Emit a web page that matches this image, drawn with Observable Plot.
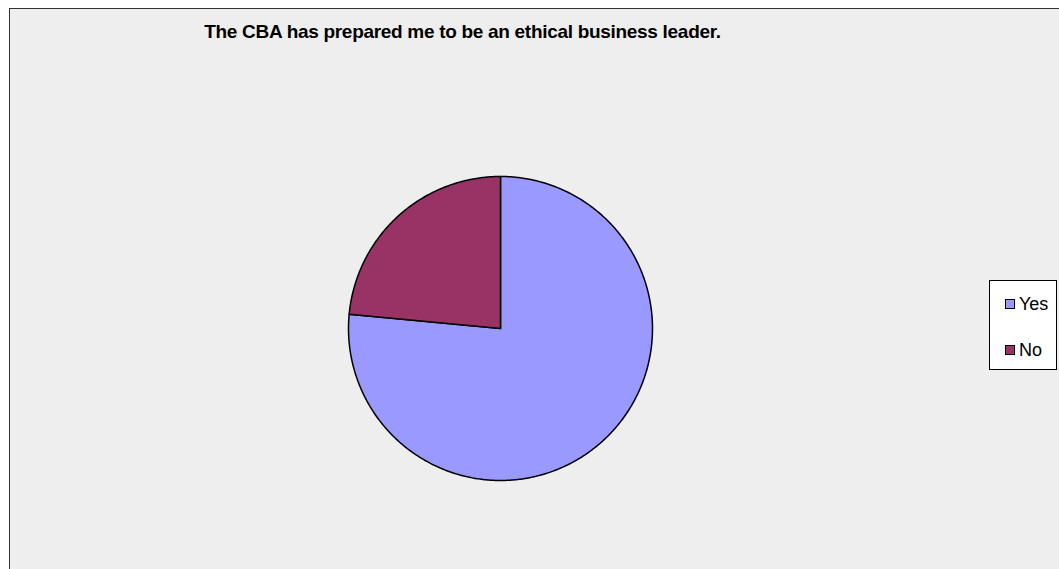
<!DOCTYPE html>
<html>
<head>
<meta charset="utf-8">
<script src="https://cdn.jsdelivr.net/npm/d3@7"></script>
<script src="https://cdn.jsdelivr.net/npm/@observablehq/plot@0.6"></script>
<style>
  html, body { margin: 0; padding: 0; background: #ffffff; }
  #wrap { position: relative; width: 1059px; height: 569px; overflow: hidden; }
  #bg { position: absolute; left: 9px; top: 8px; width: 1100px; height: 600px;
        background: #eeeeee; border-left: 1.5px solid #333; border-top: 1.5px solid #333; box-sizing: border-box; }
  #title { position: absolute; left: 0; width: 925px; top: 21px; text-align: center;
           font-family: "Liberation Sans", Arial, sans-serif; font-weight: bold; font-size: 19px;
           letter-spacing: -0.3px; color: #000; line-height: 22px; }
  #legend { position: absolute; left: 989px; top: 280px; width: 68px; height: 90px;
            background: #fff; border: 1px solid #000; box-sizing: border-box;
            font-family: "Liberation Sans", Arial, sans-serif; font-size: 18px; color: #000; }
  .item { position: absolute; left: 15px; height: 20px; line-height: 20px; }
  .sw { display: inline-block; width: 8px; height: 8px; border: 1px solid #000; margin-right: 4px; vertical-align: 1px; }
  #plot { position: absolute; left: 0; top: 0; }
</style>
</head>
<body>
<div id="wrap">
  <div id="bg"></div>
  <div id="plot"></div>
  <div id="title"></div>
  <div id="legend"></div>
</div>
<script>
const titleText = "The CBA has prepared me to be an ethical business leader.";
const categories = ["Yes", "No"];
const values = [76.5, 23.5];
const colors = ["#9999ff", "#993366"];

document.getElementById("title").textContent = titleText;

// Build slice outlines from the values (angles clockwise from 12 o'clock)
const pie = d3.pie().sort(null).value(d => d.value)(categories.map((c, i) => ({category: c, value: values[i]})));
const pts = [];
pie.forEach(s => {
  const cat = s.data.category;
  pts.push({category: cat, x: 0, y: 0});
  const n = Math.max(2, Math.ceil((s.endAngle - s.startAngle) / 0.01));
  for (let k = 0; k <= n; k++) {
    const a = s.startAngle + (s.endAngle - s.startAngle) * k / n;
    pts.push({category: cat, x: Math.sin(a), y: Math.cos(a)});
  }
  pts.push({category: cat, x: 0, y: 0});
});

const chart = Plot.plot({
  width: 1059,
  height: 569,
  style: {background: "transparent", overflow: "visible"},
  x: {domain: [-1, 1], range: [348, 652], axis: null},
  y: {domain: [-1, 1], range: [480, 176], axis: null},
  color: {domain: categories, range: colors},
  marks: [
    Plot.line(pts, {x: "x", y: "y", z: "category", fill: "category", stroke: "#000", strokeWidth: 1.5, curve: "linear"})
  ]
});
document.getElementById("plot").appendChild(chart);

const legend = document.getElementById("legend");
categories.forEach((c, i) => {
  const it = document.createElement("div");
  it.className = "item";
  it.style.top = (13 + i * 46) + "px";
  const sw = document.createElement("span");
  sw.className = "sw";
  sw.style.background = colors[i];
  it.appendChild(sw);
  it.appendChild(document.createTextNode(c));
  legend.appendChild(it);
});
</script>
</body>
</html>
